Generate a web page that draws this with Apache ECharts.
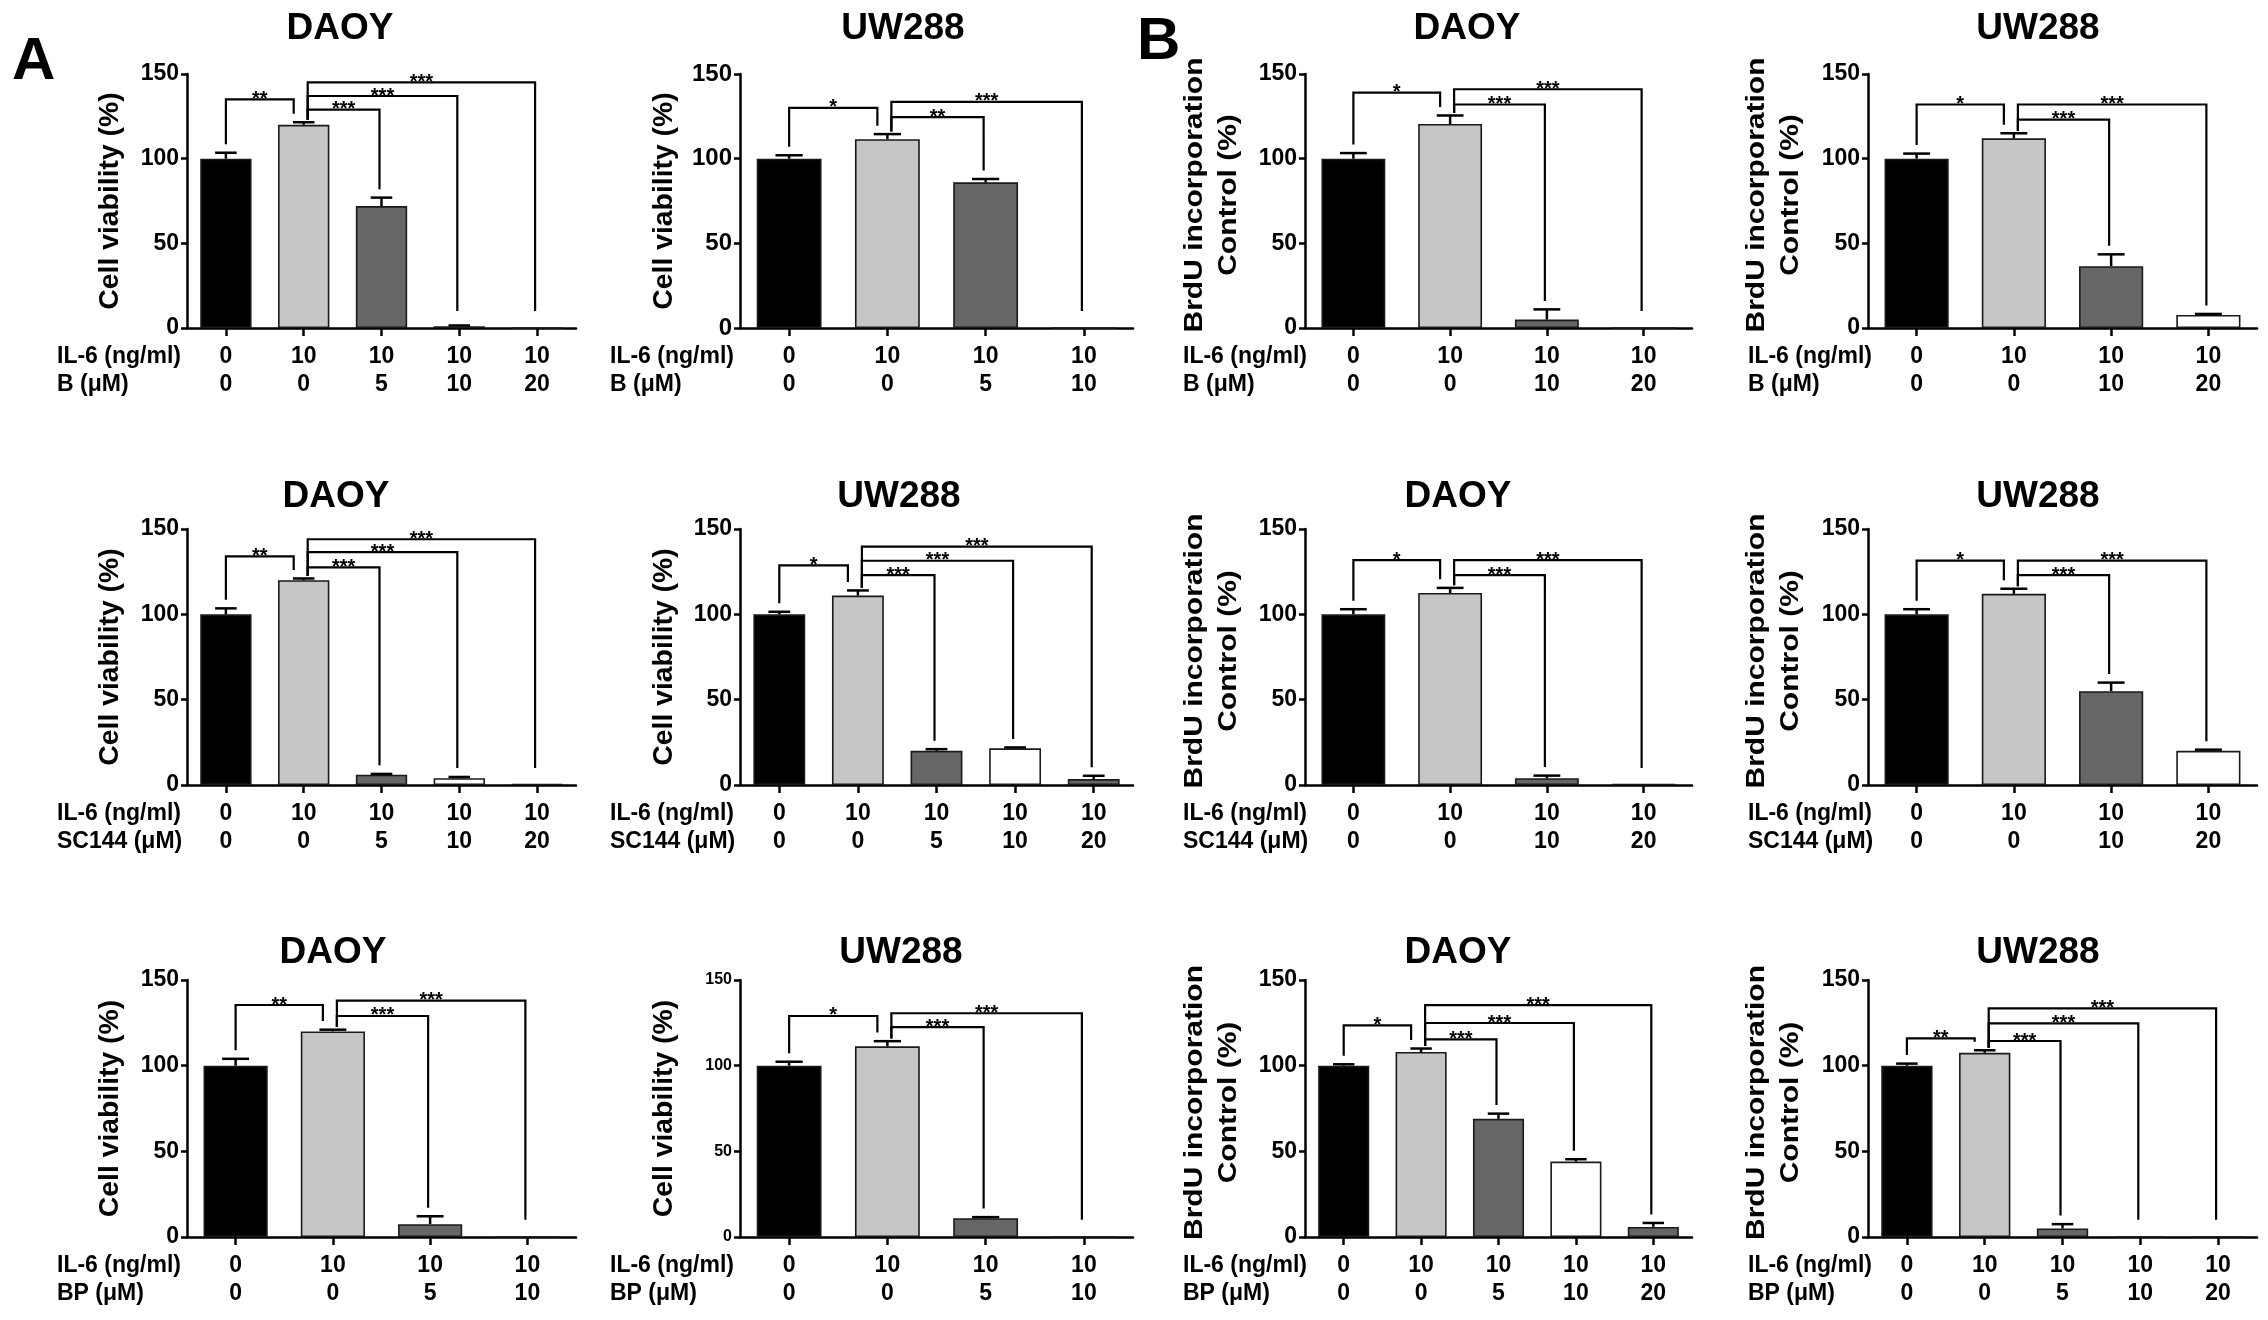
<!DOCTYPE html>
<html><head><meta charset="utf-8">
<script src="https://cdn.jsdelivr.net/npm/echarts@6/dist/echarts.min.js"></script>
<style>html,body{margin:0;padding:0;background:#fff}#c{width:2268px;height:1320px}</style>
</head><body><div id="c"></div>
<script>
// ---------- DATA ----------
const titleDaoy = 'DAOY';
const titleUw = 'UW288';
const yNameViability = 'Cell viability (%)';
const yNameBrdU = 'BrdU incorporation\nControl (%)';
const il6Label = 'IL-6 (ng/ml)';
const drugB = 'B (μM)', drugSC = 'SC144 (μM)', drugBP = 'BP (μM)';

// Panel A, row 1 (B)
const a1Il6 = [0, 10, 10, 10, 10];
const a1Dose = [0, 0, 5, 10, 20];
const a1Vals = [100, 120, 72, 1, 0];
const a1Errs = [3.5, 1.5, 5, 0.5, 0];
const a1Sig = [[0, 1, 135, '**'], [1, 2, 129, '***'], [1, 3, 137, '***'], [1, 4, 145, '***']];

const a2Il6 = [0, 10, 10, 10];
const a2Dose = [0, 0, 5, 10];
const a2Vals = [100, 111.5, 86, 0];
const a2Errs = [2, 3, 2, 0];
const a2Sig = [[0, 1, 130, '*'], [1, 2, 124.5, '**'], [1, 3, 133.5, '***']];

// Panel B, row 1 (B)
const b1Il6 = [0, 10, 10, 10];
const b1Dose = [0, 0, 10, 20];
const b1Vals = [100, 120.5, 5, 0];
const b1Errs = [3.3, 5, 6, 0];
const b1Sig = [[0, 1, 139, '*'], [1, 2, 132, '***'], [1, 3, 141, '***']];

const b2Il6 = [0, 10, 10, 10];
const b2Dose = [0, 0, 10, 20];
const b2Vals = [100, 112, 36.5, 7.7];
const b2Errs = [3, 3, 7, 0.6];
const b2Sig = [[0, 1, 132, '*'], [1, 2, 123, '***'], [1, 3, 132, '***']];

// Row 2 (SC144)
const a3Il6 = [0, 10, 10, 10, 10];
const a3Dose = [0, 0, 5, 10, 20];
const a3Vals = [100, 120, 6, 4, 0.5];
const a3Errs = [3.5, 1, 0.5, 0.7, 0];
const a3Sig = [[0, 1, 134, '**'], [1, 2, 127.5, '***'], [1, 3, 136.5, '***'], [1, 4, 144, '***']];

const a4Il6 = [0, 10, 10, 10, 10];
const a4Dose = [0, 0, 5, 10, 20];
const a4Vals = [100, 111, 20, 21.5, 3.5];
const a4Errs = [1.5, 3, 1, 0.5, 1.9];
const a4Sig = [[0, 1, 128.7, '*'], [1, 2, 123, '***'], [1, 3, 131.4, '***'], [1, 4, 139.7, '***']];

const b3Il6 = [0, 10, 10, 10];
const b3Dose = [0, 0, 10, 20];
const b3Vals = [100, 112.5, 4, 0.5];
const b3Errs = [3, 3, 1.5, 0];
const b3Sig = [[0, 1, 131.8, '*'], [1, 2, 123, '***'], [1, 3, 131.8, '***']];

const b4Il6 = [0, 10, 10, 10];
const b4Dose = [0, 0, 10, 20];
const b4Vals = [100, 112, 55, 20];
const b4Errs = [3, 3, 5, 0.7];
const b4Sig = [[0, 1, 131.5, '*'], [1, 2, 123, '***'], [1, 3, 131.5, '***']];

// Row 3 (BP)
const a5Il6 = [0, 10, 10, 10];
const a5Dose = [0, 0, 5, 10];
const a5Vals = [100, 120, 7.5, 0];
const a5Errs = [4, 1, 4.6, 0];
const a5Sig = [[0, 1, 135.4, '**'], [1, 2, 129, '***'], [1, 3, 138, '***']];

const a6Il6 = [0, 10, 10, 10];
const a6Dose = [0, 0, 5, 10];
const a6Vals = [100, 111.3, 11, 0];
const a6Errs = [2.3, 3, 0.6, 0];
const a6Sig = [[0, 1, 129, '*'], [1, 2, 122.5, '***'], [1, 3, 130.6, '***']];

const b5Il6 = [0, 10, 10, 10, 10];
const b5Dose = [0, 0, 5, 10, 20];
const b5Vals = [100, 108, 69, 44, 5.9];
const b5Errs = [0.8, 2, 3, 1.4, 2.3];
const b5Sig = [[0, 1, 123.5, '*'], [1, 2, 115.3, '***'], [1, 3, 124.9, '***'], [1, 4, 135.3, '***']];

const b6Il6 = [0, 10, 10, 10, 10];
const b6Dose = [0, 0, 5, 10, 20];
const b6Vals = [100, 107.5, 5, 0, 0];
const b6Errs = [1.2, 1.5, 2.5, 0, 0];
const b6Sig = [[0, 1, 115.9, '**'], [1, 2, 114.4, '***'], [1, 3, 124.7, '***'], [1, 4, 133.4, '***']];

const yTicks = [0, 50, 100, 150];

// ---------- LAYOUT / STYLE ----------
const FONT = '"Liberation Sans", Arial, Helvetica, sans-serif';
const barColors = ['#000000', '#c6c6c6', '#666666', '#ffffff', '#666666'];

const colA1 = {left: 187, width: 389, nameX: 111, rowX: 57, nameSize: 27, nameScale: 1.05, nameDy: 0};
const colA2 = {left: 740, width: 393, nameX: 665, rowX: 610, nameSize: 27, nameScale: 1.05, nameDy: 0};
const colB1 = {left: 1305, width: 387, nameX: 1212, rowX: 1183, nameSize: 25, nameScale: 1.2, nameDy: -6};
const colB2 = {left: 1868, width: 389, nameX: 1774, rowX: 1748, nameSize: 25, nameScale: 1.2, nameDy: -6};
const row1 = {top: 74, height: 254, ty: 29};
const row2 = {top: 529, height: 256, ty: 497};
const row3 = {top: 980, height: 257, ty: 953};

const panels = [
  {col: colA1, row: row1, tx: 340, title: titleDaoy, yName: yNameViability, drug: drugB, il6: a1Il6, dose: a1Dose, vals: a1Vals, errs: a1Errs, sig: a1Sig},
  {col: colA2, row: row1, tx: 903, title: titleUw, yName: yNameViability, drug: drugB, il6: a2Il6, dose: a2Dose, vals: a2Vals, errs: a2Errs, sig: a2Sig, tickFont: 24},
  {col: colB1, row: row1, tx: 1467, title: titleDaoy, yName: yNameBrdU, drug: drugB, il6: b1Il6, dose: b1Dose, vals: b1Vals, errs: b1Errs, sig: b1Sig},
  {col: colB2, row: row1, tx: 2038, title: titleUw, yName: yNameBrdU, drug: drugB, il6: b2Il6, dose: b2Dose, vals: b2Vals, errs: b2Errs, sig: b2Sig},
  {col: colA1, row: row2, tx: 336, title: titleDaoy, yName: yNameViability, drug: drugSC, il6: a3Il6, dose: a3Dose, vals: a3Vals, errs: a3Errs, sig: a3Sig},
  {col: colA2, row: row2, tx: 899, title: titleUw, yName: yNameViability, drug: drugSC, il6: a4Il6, dose: a4Dose, vals: a4Vals, errs: a4Errs, sig: a4Sig},
  {col: colB1, row: row2, tx: 1458, title: titleDaoy, yName: yNameBrdU, drug: drugSC, il6: b3Il6, dose: b3Dose, vals: b3Vals, errs: b3Errs, sig: b3Sig},
  {col: colB2, row: row2, tx: 2038, title: titleUw, yName: yNameBrdU, drug: drugSC, il6: b4Il6, dose: b4Dose, vals: b4Vals, errs: b4Errs, sig: b4Sig},
  {col: colA1, row: row3, tx: 333, title: titleDaoy, yName: yNameViability, drug: drugBP, il6: a5Il6, dose: a5Dose, vals: a5Vals, errs: a5Errs, sig: a5Sig},
  {col: colA2, row: row3, tx: 901, title: titleUw, yName: yNameViability, drug: drugBP, il6: a6Il6, dose: a6Dose, vals: a6Vals, errs: a6Errs, sig: a6Sig, tickFont: 16},
  {col: colB1, row: row3, tx: 1458, title: titleDaoy, yName: yNameBrdU, drug: drugBP, il6: b5Il6, dose: b5Dose, vals: b5Vals, errs: b5Errs, sig: b5Sig},
  {col: colB2, row: row3, tx: 2038, title: titleUw, yName: yNameBrdU, drug: drugBP, il6: b6Il6, dose: b6Dose, vals: b6Vals, errs: b6Errs, sig: b6Sig}
];

const BAR_W = 0.66;

function errRender(params, api) {
  const i = api.value(0), v = api.value(1), e = api.value(2);
  if (!(e > 0)) return null;
  const p0 = api.coord([i, v]);
  const p1 = api.coord([i, v + e]);
  const bw = api.size([1, 0])[0] * BAR_W;
  const cap = bw * 0.42;
  return {
    type: 'group',
    children: [
      {type: 'line', shape: {x1: p0[0], y1: p0[1], x2: p1[0], y2: p1[1]}, style: {stroke: '#000', lineWidth: 2.5}},
      {type: 'line', shape: {x1: p1[0] - cap / 2, y1: p1[1], x2: p1[0] + cap / 2, y2: p1[1]}, style: {stroke: '#000', lineWidth: 2.5}}
    ]
  };
}

function makeSigRender(p) {
  const legBottom = k => Math.max(p.vals[k] + p.errs[k] + 5, 10);
  return function (params, api) {
    const s = p.sig[params.dataIndex];
    const i = s[0], j = s[1], top = s[2], label = s[3];
    const a = api.coord([i, top]);
    const b = api.coord([j, top]);
    const x1 = a[0] + (i === 1 ? 4 : 0);
    const x2 = b[0] - (j === 1 ? 10 : 2);
    const yT = a[1];
    const yl = api.coord([i, i === 1 ? p.vals[1] + p.errs[1] + 1.5 : legBottom(i)])[1];
    const yr = api.coord([j, legBottom(j)])[1];
    return {
      type: 'group',
      children: [
        {type: 'polyline', shape: {points: [[x1, yl], [x1, yT], [x2, yT], [x2, yr]]}, style: {stroke: '#000', lineWidth: 2.2, fill: null}},
        {type: 'text', x: (x1 + x2) / 2, y: yT + 10, style: {text: label, fill: '#000', fontSize: 20, fontWeight: 'bold', fontFamily: FONT, align: 'center', verticalAlign: 'bottom'}}
      ]
    };
  };
}

const grid = [], xAxis = [], yAxis = [], series = [], graphic = [];

graphic.push({type: 'text', x: 12, y: 32, style: {text: 'A', fill: '#000', fontSize: 60, fontWeight: 'bold', fontFamily: FONT, align: 'left', verticalAlign: 'top'}});
graphic.push({type: 'text', x: 1137, y: 12, style: {text: 'B', fill: '#000', fontSize: 60, fontWeight: 'bold', fontFamily: FONT, align: 'left', verticalAlign: 'top'}});

panels.forEach((p, idx) => {
  grid.push({left: p.col.left, top: p.row.top, width: p.col.width, height: p.row.height});
  const cats = p.il6.map((v, k) => v + '\n' + p.dose[k]);
  xAxis.push({
    type: 'category', gridIndex: idx, data: cats, boundaryGap: true,
    axisLine: {show: true, lineStyle: {color: '#000', width: 2.5}},
    axisTick: {show: true, alignWithLabel: true, length: 8, lineStyle: {color: '#000', width: 2.5}},
    axisLabel: {interval: 0, margin: 15, fontSize: 23, fontWeight: 'bold', color: '#000', lineHeight: 28, fontFamily: FONT},
    splitLine: {show: false}
  });
  yAxis.push({
    type: 'value', gridIndex: idx, min: yTicks[0], max: yTicks[yTicks.length - 1], interval: yTicks[1] - yTicks[0],
    axisLine: {show: true, lineStyle: {color: '#000', width: 2.5}},
    axisTick: {show: true, length: 6, lineStyle: {color: '#000', width: 2.5}},
    axisLabel: {margin: 8, fontSize: p.tickFont || 23, fontWeight: 'bold', color: '#000', fontFamily: FONT},
    splitLine: {show: false}
  });
  series.push({
    type: 'bar', xAxisIndex: idx, yAxisIndex: idx, barWidth: (BAR_W * 100) + '%',
    data: p.vals.map((v, k) => ({value: v, itemStyle: {color: barColors[k], borderColor: '#1a1a1a', borderWidth: 1.6}})),
    silent: true, animation: false
  });
  series.push({
    type: 'custom', xAxisIndex: idx, yAxisIndex: idx, renderItem: errRender,
    data: p.vals.map((v, k) => [k, v, p.errs[k]]),
    encode: {x: 0, y: 1}, silent: true, animation: false, z: 3
  });
  series.push({
    type: 'custom', xAxisIndex: idx, yAxisIndex: idx, renderItem: makeSigRender(p),
    data: p.sig.map(s => [s[0], s[2], s[1]]),
    encode: {x: 0, y: 1}, silent: true, animation: false, z: 4
  });
  graphic.push({type: 'text', x: p.tx, y: p.row.ty, style: {text: p.title, fill: '#000', fontSize: 37, fontWeight: 'bold', fontFamily: FONT, align: 'center', verticalAlign: 'middle'}});
  graphic.push({type: 'text', x: p.col.nameX, y: p.row.top + p.row.height / 2 + p.col.nameDy, rotation: Math.PI / 2, scaleX: p.col.nameScale,
    style: {text: p.yName, fill: '#000', fontSize: p.col.nameSize, fontWeight: 'bold', fontFamily: FONT, align: 'center', verticalAlign: 'middle', lineHeight: 34}});
  graphic.push({type: 'text', x: p.col.rowX, y: p.row.top + p.row.height + 15,
    style: {text: il6Label + '\n' + p.drug, fill: '#000', fontSize: 23, fontWeight: 'bold', fontFamily: FONT, align: 'left', verticalAlign: 'top', lineHeight: 28}});
});

const chart = echarts.init(document.getElementById('c'), null, {renderer: 'canvas'});
chart.setOption({
  backgroundColor: '#ffffff',
  animation: false,
  grid, xAxis, yAxis, series, graphic
});
</script>
</body></html>
